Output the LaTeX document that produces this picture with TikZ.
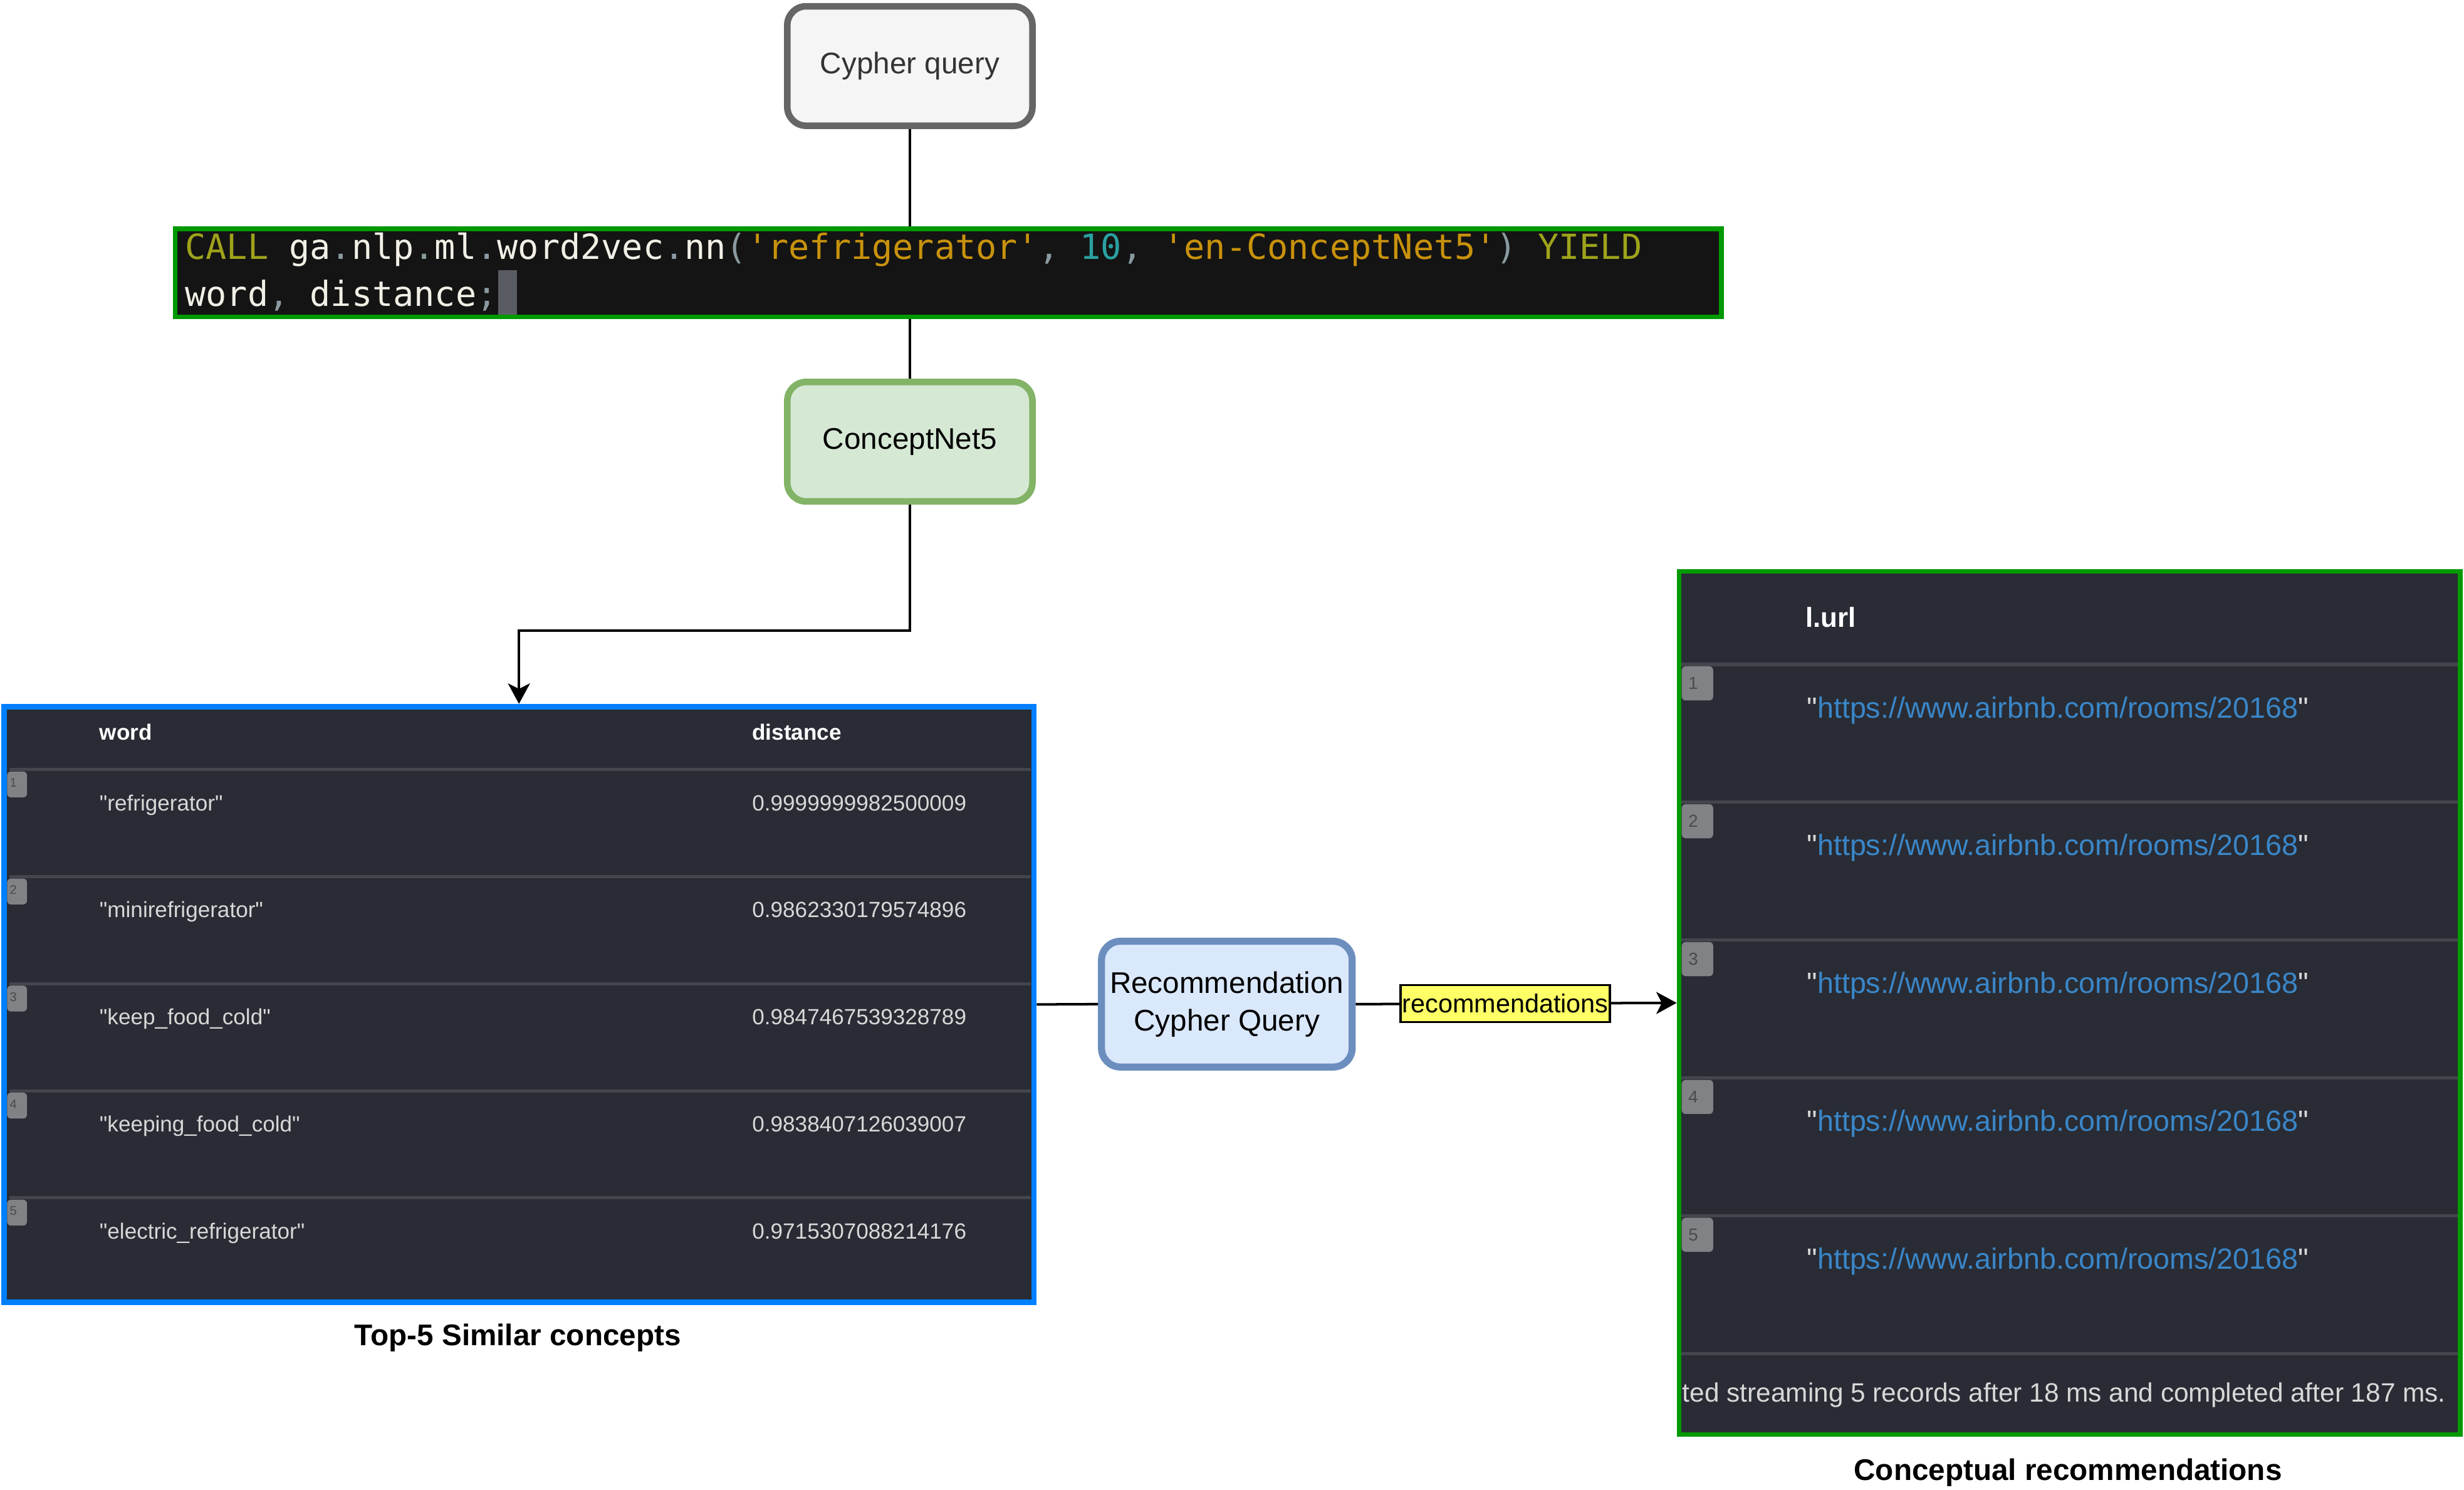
\documentclass[tikz,border=0pt]{standalone}
\usepackage{fontspec}
\setmainfont{Liberation Sans}
\newfontfamily\cellfont{Liberation Sans}
\setmonofont{DejaVu Sans Mono}
\usetikzlibrary{arrows.meta}
\definecolor{cqfill}{HTML}{F5F5F5}
\definecolor{cqline}{HTML}{666666}
\definecolor{cqtext}{HTML}{333333}
\definecolor{cnfill}{HTML}{D5E8D4}
\definecolor{cnline}{HTML}{82B366}
\definecolor{rqfill}{HTML}{DAE8FC}
\definecolor{rqline}{HTML}{6C8EBF}
\definecolor{codebg}{HTML}{141414}
\definecolor{gborder}{HTML}{009900}
\definecolor{bborder}{HTML}{007FFF}
\definecolor{tabbg}{HTML}{292C34}
\definecolor{tabsep}{HTML}{43464D}
\definecolor{tabnum}{HTML}{808285}
\definecolor{tagtext}{HTML}{4A4A4A}
\definecolor{ckwc}{HTML}{9EA31B}
\definecolor{cstrc}{HTML}{C8920C}
\definecolor{cnumc}{HTML}{2AA1A0}
\definecolor{cpunc}{HTML}{8A9AA0}
\definecolor{ctext}{HTML}{F2F0E6}
\definecolor{cursorc}{HTML}{5A5C63}
\definecolor{urlc}{HTML}{3A86C8}
\definecolor{cellt}{HTML}{D8D8D8}
\definecolor{lblc}{HTML}{FFFF66}
\newcommand\ckw[1]{\textcolor{ckwc}{#1}}
\newcommand\cstr[1]{\textcolor{cstrc}{#1}}
\newcommand\cnum[1]{\textcolor{cnumc}{#1}}
\newcommand\cpun[1]{\textcolor{cpunc}{#1}}
\begin{document}
\begin{tikzpicture}[x=1pt,y=-1pt,
  procbox/.style={rounded corners=12, line width=4.2, minimum width=156, minimum height=76, inner sep=0, font=\fontsize{19}{24}\selectfont, align=center},
  conn/.style={line width=1.6, draw=black},
  arr/.style={-{Stealth[length=13, width=14, inset=3.5]}},
  codetext/.style={inner sep=0, font=\ttfamily\fontsize{22}{26}\selectfont, text=ctext},
  sepline/.style={draw=tabsep, line width=2},
  hdr/.style={inner sep=0, text=white, font=\bfseries\fontsize{14}{17}\selectfont},
  cell/.style={inner sep=0, text=cellt, font=\cellfont\fontsize{14}{17}\selectfont},
  tabtag/.style={fill=tabnum, rounded corners=2.5, inner sep=0},
  tagnum/.style={inner sep=0, text=tagtext},
  urlcell/.style={inner sep=0, text=cellt, font=\cellfont\fontsize{18.6}{22}\selectfont},
  caption/.style={inner sep=0, font=\bfseries\fontsize{19}{23}\selectfont},
  lblbox/.style={draw=black, line width=1.5, fill=lblc, inner xsep=1, inner ysep=0, minimum height=23.6, font=\fontsize{16.5}{19}\selectfont}
]
\useasboundingbox (0,0) rectangle (1568,947.5);

% top boxes
\node[procbox, fill=cqfill, draw=cqline, text=cqtext] (cq) at (579,42) {Cypher query};
\node[draw=gborder, fill=codebg, line width=3, minimum width=984, minimum height=56, inner sep=0] (code) at (603.5,173.5) {};
\node[codetext, anchor=base west] (cl1) at (117.6,164.8) {\ckw{CALL} ga\cpun{.}nlp\cpun{.}ml\cpun{.}word2vec\cpun{.}nn\cpun{(}\cstr{'refrigerator'}\cpun{,} \cnum{10}\cpun{,} \cstr{'en-ConceptNet5'}\cpun{)} \ckw{YIELD}};
\node[codetext, anchor=base west] (cl2) at (117.6,194.7) {word\cpun{,} distance\cpun{;}};
\node[fill=cursorc, minimum width=12, minimum height=28, inner sep=0] (cur) at (323,186) {};
\node[procbox, fill=cnfill, draw=cnline, text=black] (cn) at (579,281) {ConceptNet5};

% left table
\node[draw=bborder, fill=tabbg, line width=3.5, minimum width=655.5, minimum height=379, inner sep=0] (lt) at (330.25,639) {};
\node[hdr, anchor=base west] (lth1) at (63.2,470.8) {word};
\node[hdr, anchor=base west] (lth2) at (478.5,470.8) {distance};
\foreach \i/\w/\d in {0/{"refrigerator"}/{0.9999999982500009},1/{"minirefrigerator"}/{0.9862330179574896},2/{"keep\_food\_cold"}/{0.9847467539328789},3/{"keeping\_food\_cold"}/{0.9838407126039007},4/{"electric\_refrigerator"}/{0.9715307088214176}}{
  \pgfmathsetmacro\s{489.6+68.1*\i}
  \pgfmathsetmacro\b{515.7+68.1*\i}
  \pgfmathtruncatemacro\n{\i+1}
  \draw[sepline] (6,\s) -- (656,\s);
  \node[tabtag, minimum width=12.7, minimum height=16.5, anchor=north west] (ltt\n) at (4.3,\s+1) {};
  \node[tagnum, font=\fontsize{8}{9}\selectfont] (ltn\n) at (8.5,\s+8.5) {\n};
  \node[cell, anchor=base west] (ltw\n) at (63.2,\b) {\w};
  \node[cell, anchor=base west] (ltd\n) at (478.5,\b) {\d};
}
\node[caption, anchor=base] (cap1) at (329.5,855.8) {Top-5 Similar concepts};

% recommendation query
\node[procbox, fill=rqfill, draw=rqline, text=black, line width=4.5, minimum width=159.5, minimum height=80] (rq) at (780.7,638.8) {Recommendation\\Cypher Query};

% right table
\node[draw=gborder, fill=tabbg, line width=3, minimum width=497, minimum height=549, inner sep=0] (rt) at (1317,638) {};
\node[hdr, font=\bfseries\fontsize{17.5}{20}\selectfont, anchor=base west] (rth) at (1148.7,398.8) {l.url};
\foreach \i in {0,...,4}{
  \pgfmathsetmacro\s{422.7+87.7*\i}
  \pgfmathsetmacro\b{456.6+87.7*\i}
  \pgfmathtruncatemacro\n{\i+1}
  \draw[sepline] (1070,\s) -- (1564,\s);
  \node[tabtag, minimum width=20, minimum height=21.7, anchor=north west] (rtt\n) at (1070,\s+1) {};
  \node[tagnum, font=\fontsize{11}{12}\selectfont] (rtn\n) at (1077.5,\s+12) {\n};
  \node[urlcell, anchor=base west] (rtu\n) at (1149.7,\b) {"\textcolor{urlc}{https://www.airbnb.com/rooms/20168}"};
}
\draw[sepline] (1070,861.1) -- (1564,861.1);
\node[cell, font=\cellfont\fontsize{16.9}{20}\selectfont, anchor=base west] (rtf) at (1070.5,892) {ted streaming 5 records after 18 ms and completed after 187 ms.};
\node[caption, anchor=base] (cap2) at (1316,941.8) {Conceptual recommendations};

% connectors
\draw[conn] (cq.south) -- (cq.south |- code.north);
\draw[conn] (code.south -| cn.north) -- (cn.north);
\coordinate (bend) at (330.25,401);
\draw[conn, arr] (cn.south) |- (bend) -- (lt.north);
\draw[conn] (lt.east) -- (rq.west);
\draw[conn, arr] (rq.east) -- node[lblbox, pos=0.466] (lbl) {recommendations} (rt.west);
\end{tikzpicture}
\end{document}
